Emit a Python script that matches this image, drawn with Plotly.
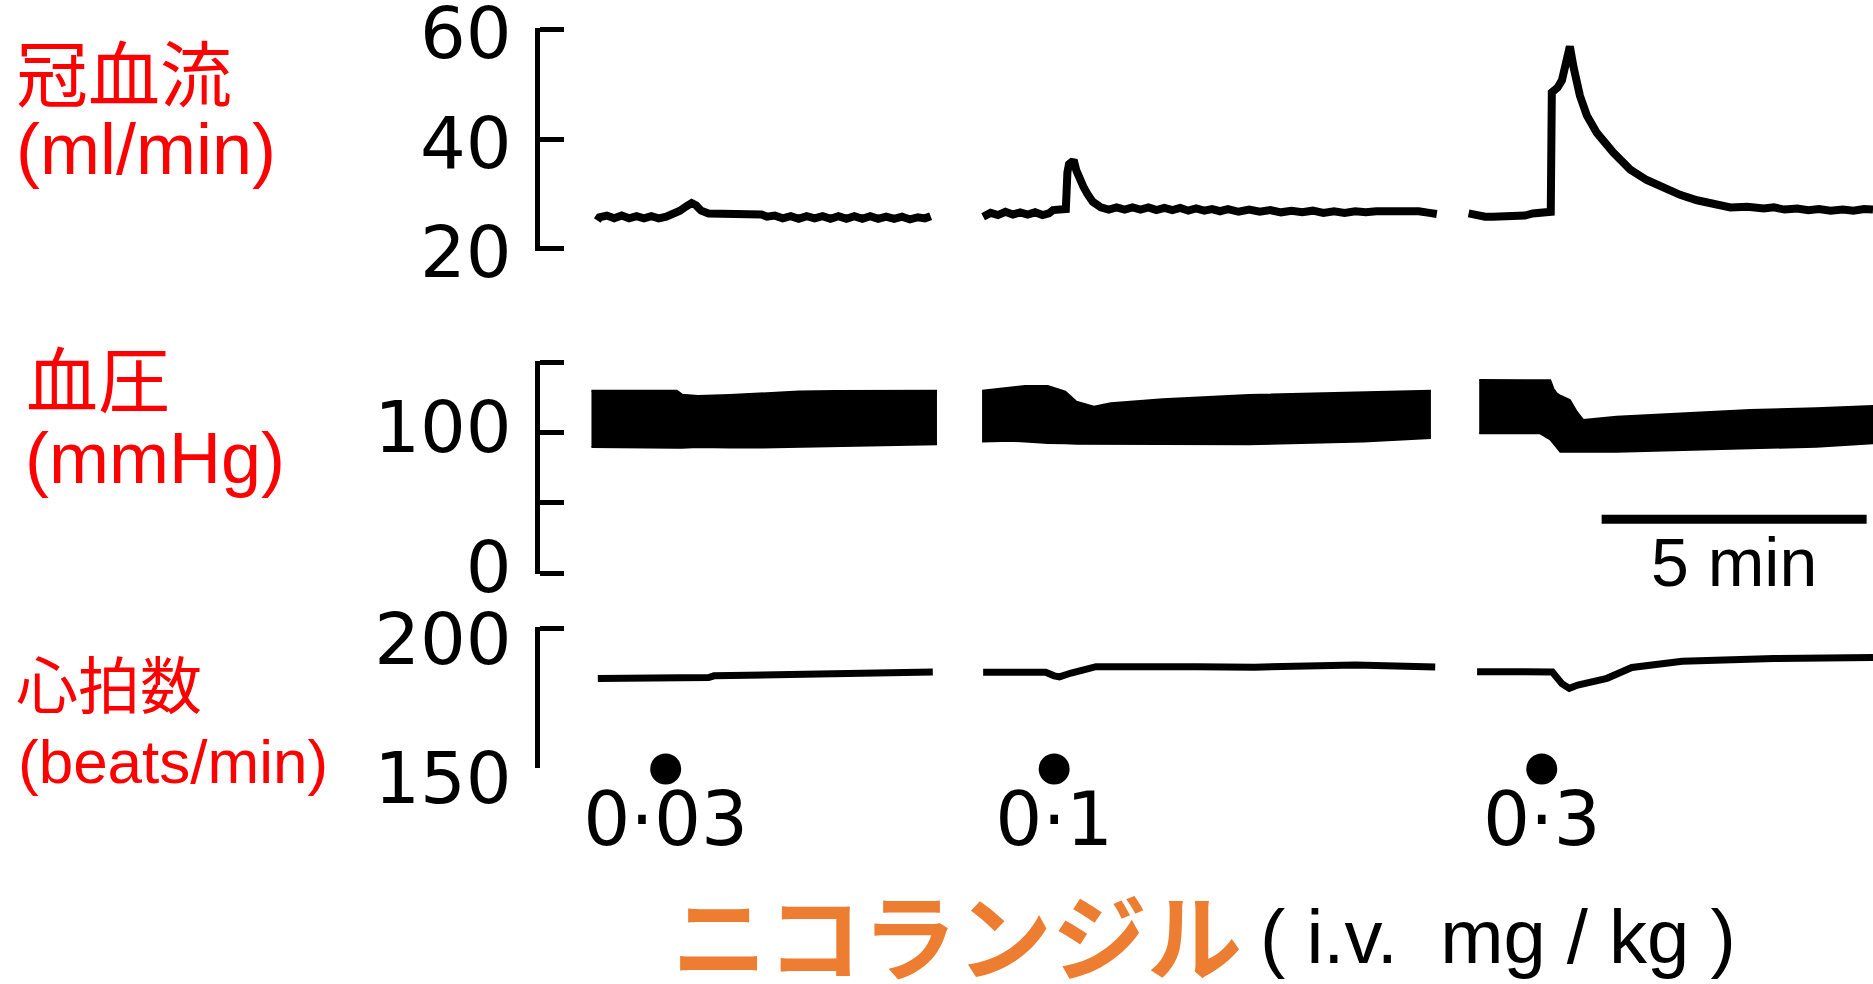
import plotly.graph_objects as go

# ---------------- data (time in minutes along the recording) ----------------
# Coronary blood flow (ml/min)
flow1_t = [1.10, 1.14, 1.28, 1.42, 1.56, 1.70, 1.84, 1.98, 2.12, 2.26, 2.40, 2.54, 2.66, 2.78, 2.88,
           2.96, 3.06, 3.20, 3.40, 3.60, 3.80, 4.00, 4.20, 4.30, 4.45, 4.60, 4.75, 4.90, 5.05, 5.20,
           5.35, 5.50, 5.65, 5.80, 5.95, 6.10, 6.25, 6.40, 6.55, 6.70, 6.85, 7.00, 7.15, 7.28, 7.39]
flow1_v = [25.2, 25.8, 26.1, 25.6, 26.1, 25.6, 26.0, 25.6, 26.0, 25.6, 25.9, 26.3, 27.0, 27.8, 28.4,
           28.0, 27.0, 26.5, 26.5, 26.4, 26.4, 26.4, 26.3, 25.9, 26.1, 25.6, 26.0, 25.5, 26.0, 25.6,
           26.0, 25.5, 26.0, 25.5, 26.0, 25.5, 26.0, 25.5, 25.9, 25.5, 25.9, 25.4, 25.8, 25.6, 26.0]
flow2_t = [8.38, 8.52, 8.66, 8.80, 8.94, 9.08, 9.22, 9.36, 9.50, 9.62, 9.70, 9.82, 9.94, 9.97, 10.00,
           10.05, 10.10, 10.14, 10.20, 10.27, 10.35, 10.45, 10.60, 10.75, 10.90, 11.05, 11.20, 11.35,
           11.50, 11.65, 11.80, 11.95, 12.10, 12.25, 12.40, 12.55, 12.70, 12.85, 13.00, 13.20, 13.40,
           13.60, 13.80, 14.00, 14.20, 14.40, 14.60, 14.80, 15.00, 15.20, 15.40, 15.60, 15.80, 16.00,
           16.20, 16.40, 16.60, 16.80, 16.94]
flow2_v = [25.9, 26.6, 26.2, 26.8, 26.3, 26.7, 26.3, 26.7, 26.2, 26.5, 27.1, 27.1, 27.3, 34.0, 35.5,
           35.9, 35.8, 34.3, 32.6, 31.4, 30.0, 28.6, 27.6, 27.2, 27.6, 27.2, 27.6, 27.2,
           27.6, 27.1, 27.5, 27.1, 27.5, 27.0, 27.4, 27.0, 27.3, 26.9, 27.3, 26.8, 27.2,
           26.8, 27.1, 26.7, 27.0, 26.7, 27.0, 26.6, 26.9, 26.6, 26.9, 26.7, 26.9, 26.9,
           27.0, 27.0, 26.9, 26.6, 26.4]
flow3_t = [17.54, 17.70, 17.85, 18.00, 18.15, 18.30, 18.45, 18.60, 18.75, 18.90, 19.00, 19.09, 19.11,
           19.15, 19.22, 19.30, 19.37, 19.45, 19.52, 19.64, 19.77, 19.96, 20.27, 20.59, 20.90, 21.22,
           21.53, 21.85, 22.16, 22.48, 22.80, 23.11, 23.30, 23.50, 23.74, 23.95, 24.15, 24.37, 24.60,
           24.80, 25.00, 25.17]
flow3_v = [26.5, 26.0, 25.9, 25.9, 25.9, 25.9, 26.0, 26.1, 26.5, 26.5, 26.6, 26.8, 48.6,
           48.9, 49.5, 50.8, 53.8, 57.0, 53.2, 48.0, 44.4, 41.2, 37.6, 34.5, 32.6, 31.1,
           29.9, 28.9, 28.3, 27.6, 27.7, 27.4, 27.6, 27.2, 27.4, 27.1, 27.3, 27.0, 27.2,
           27.0, 27.3, 27.2]

# Blood pressure envelope (mmHg): systolic (upper) and diastolic (lower)
bp1_t = [0.99, 2.60, 2.70, 3.00, 3.60, 4.20, 4.90, 5.60, 6.40, 7.49]
bp1_sys = [129.6, 129.6, 126.8, 125.8, 126.5, 127.5, 129.0, 129.4, 129.6, 129.6]
bp1_dia = [89.6, 89.0, 89.0, 89.5, 89.2, 89.2, 89.6, 90.0, 90.6, 91.5]
bp2_t = [8.36, 8.90, 9.17, 9.60, 9.93, 10.14, 10.47, 10.79, 11.77, 13.39, 15.56, 16.81]
bp2_sys = [129.6, 132.0, 132.9, 132.9, 128.9, 121.8, 118.2, 120.6, 123.5, 126.5, 128.2, 129.6]
bp2_dia = [93.5, 94.0, 93.5, 92.5, 92.2, 91.8, 91.5, 91.5, 91.5, 91.5, 93.5, 96.0]
bp3_t = [17.74, 18.89, 19.08, 19.14, 19.20, 19.27, 19.45, 19.58, 19.70, 20.33, 21.59, 22.85, 24.10, 25.17]
bp3_sys = [137.2, 137.2, 137.0, 131.0, 127.7, 126.0, 123.0, 114.7, 108.8, 111.1, 113.5, 115.9, 117.1, 118.7]
bp3_dia = [99.3, 99.3, 95.0, 92.2, 89.5, 86.2, 86.2, 86.2, 86.2, 86.2, 87.4, 88.6, 89.8, 92.2]

# Heart rate (beats/min)
hr1_t = [1.11, 2.50, 3.20, 3.30, 5.00, 6.50, 7.43]
hr1_v = [181.8, 181.9, 182.2, 182.8, 183.2, 183.8, 184.2]
hr2_t = [8.38, 9.00, 9.56, 9.72, 9.82, 10.04, 10.30, 10.51, 12.41, 13.50, 15.41, 16.91]
hr2_v = [184.1, 184.3, 184.1, 182.8, 182.4, 183.8, 185.3, 186.1, 186.1, 185.9, 186.7, 186.0]
hr3_t = [17.70, 18.50, 19.12, 19.30, 19.44, 19.60, 20.15, 20.62, 21.57, 23.30, 25.17]
hr3_v = [184.3, 184.3, 184.2, 180.0, 178.3, 179.5, 181.9, 185.8, 188.0, 189.0, 189.4]

# Nicorandil injections
dose_t = [2.39, 9.72, 18.92]
dose_labels = ["0·03", "0·1", "0·3"]

# 5-minute scale bar
scale_start = 20.05
scale_len_min = 5

# Axis ticks
flow_ticks = [20, 40, 60]
bp_tickvals = [0, 50, 100, 150]
bp_ticktext = ["0", "", "100", ""]
hr_ticks = [150, 200]

for a, b in [(flow1_t, flow1_v), (flow2_t, flow2_v), (flow3_t, flow3_v), (bp1_t, bp1_sys), (bp1_t, bp1_dia),
             (bp2_t, bp2_sys), (bp2_t, bp2_dia), (bp3_t, bp3_sys), (bp3_t, bp3_dia),
             (hr1_t, hr1_v), (hr2_t, hr2_v), (hr3_t, hr3_v)]:
    assert len(a) == len(b), (len(a), len(b))

# ---------------- figure ----------------
W, H = 1873, 984
def px(p):
    return p / W
def py(p):
    return 1 - p / H

def axis_frame(v_lo, p_lo, v_hi, p_hi, pad):
    """domain/range so that v_lo sits at pixel row p_lo and v_hi at p_hi (small pad so end ticks show)."""
    k = (p_lo - p_hi) / (v_hi - v_lo)
    return dict(domain=[py(p_lo + pad * k), py(p_hi - pad * k)], range=[v_lo - pad, v_hi + pad])

LAT = "Liberation Sans, Arial, Noto Sans CJK JP"
TICK = "DejaVu Sans, Liberation Sans"

fig = go.Figure()

for t, v in [(flow1_t, flow1_v), (flow2_t, flow2_v), (flow3_t, flow3_v)]:
    fig.add_trace(go.Scatter(x=t, y=v, mode="lines", line=dict(color="black", width=8),
                             xaxis="x", yaxis="y"))

for t, s, d in [(bp1_t, bp1_sys, bp1_dia), (bp2_t, bp2_sys, bp2_dia), (bp3_t, bp3_sys, bp3_dia)]:
    fig.add_trace(go.Scatter(x=list(t) + list(t)[::-1], y=list(s) + list(d)[::-1], mode="lines",
                             fill="toself", fillcolor="black", line=dict(color="black", width=2),
                             xaxis="x", yaxis="y2"))

for t, v in [(hr1_t, hr1_v), (hr2_t, hr2_v), (hr3_t, hr3_v)]:
    fig.add_trace(go.Scatter(x=t, y=v, mode="lines", line=dict(color="black", width=7),
                             xaxis="x", yaxis="y3"))

# injection row (own invisible axis below the heart-rate panel)
fig.add_trace(go.Scatter(x=dose_t, y=[0.881] * len(dose_t), mode="markers",
                         marker=dict(color="black", size=31), xaxis="x", yaxis="y4"))
fig.add_trace(go.Scatter(x=dose_t, y=[0.645] * len(dose_t), mode="text", text=dose_labels,
                         textposition="middle center",
                         textfont=dict(family=TICK, size=74, color="black"), xaxis="x", yaxis="y4"))

fig.add_trace(go.Scatter(x=[scale_start, scale_start + scale_len_min], y=[38.2, 38.2], mode="lines",
                         line=dict(color="black", width=9), xaxis="x", yaxis="y2"))

yax_common = dict(anchor="x", showline=True, linecolor="black", linewidth=5, ticks="inside",
                  ticklen=24, tickwidth=5, tickcolor="black", showgrid=False, zeroline=False,
                  tickfont=dict(family=TICK, size=72, color="black"), ticklabelstandoff=9,
                  ticklabeloverflow="allow", automargin=False, fixedrange=True)

fig.update_layout(
    width=W, height=H, autosize=False,
    margin=dict(l=0, r=0, t=0, b=0),
    paper_bgcolor="white", plot_bgcolor="white",
    showlegend=False, hovermode=False,
    xaxis=dict(domain=[px(540), 1], range=[0.0189, 25.17], visible=False, fixedrange=True),
    yaxis=dict(tickvals=flow_ticks, ticklabelshift=3,
               **axis_frame(20, 249, 60, 30, 0.3), **yax_common),
    yaxis2=dict(tickvals=bp_tickvals, ticktext=bp_ticktext, ticklabelshift=-6,
                **axis_frame(0, 573, 150, 362, 1.0), **yax_common),
    yaxis3=dict(tickvals=hr_ticks, ticklabelshift=11,
                **axis_frame(150, 767, 200, 628, 0.5), **yax_common),
    yaxis4=dict(domain=[0, py(740)], range=[0, 1], visible=False, anchor="x", fixedrange=True),
)

red = "#FF0000"
labels = [
    ("冠血流", 14, 76, 72),
    ("(ml/min)", 14, 149, 72),
    ("血圧", 24, 382, 72),
    ("(mmHg)", 23, 458, 72),
    ("心拍数", 14, 687, 62),
    ("(beats/min)", 16, 761, 62),
]
for txt, x, y, s in labels:
    fig.add_annotation(text=txt, xref="paper", yref="paper", x=px(x), y=py(y), xanchor="left",
                       yanchor="middle", showarrow=False, font=dict(family=LAT, size=s, color=red))

fig.add_annotation(text="5 min", xref="x", yref="y2", x=scale_start + scale_len_min / 2, y=7.5,
                   showarrow=False, xanchor="center", yanchor="middle",
                   font=dict(family=LAT, size=68, color="black"))

fig.add_annotation(text="<b>ニコランジル</b>", xref="paper", yref="paper", x=px(670), y=py(932),
                   xanchor="left", yanchor="middle", showarrow=False,
                   font=dict(family="Noto Sans CJK JP", size=95, color="#ED7D31"))
fig.add_annotation(text="( i.v.  mg / kg )", xref="paper", yref="paper", x=px(1258), y=py(936),
                   xanchor="left", yanchor="middle", showarrow=False,
                   font=dict(family=LAT, size=76, color="black"))

fig.write_html("out.html", config={"displayModeBar": False},
               post_script="document.body.style.margin='0';document.body.style.overflow='hidden';")
